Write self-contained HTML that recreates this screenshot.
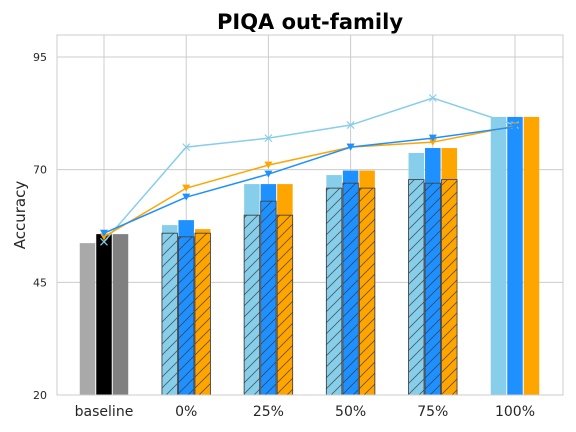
<!DOCTYPE html>
<html><head><meta charset="utf-8"><style>
body{margin:0;background:#fff;font-family:"DejaVu Sans","Liberation Sans",sans-serif}
svg{display:block}
</style></head><body>
<svg id="chart" width="576" height="432" viewBox="0 0 576 432">
<defs>
<pattern id="hatch" patternUnits="userSpaceOnUse" width="11" height="11">
<path d="M-2,13 L13,-2 M-2,2 L2,-2 M9,13 L13,9" stroke="#333" stroke-width="0.8" opacity="0.75"/>
</pattern>
</defs>
<text x="310" y="29" text-anchor="middle" font-size="21" font-weight="bold" fill="#000">PIQA out-family</text>
<text transform="translate(25,215) rotate(-90)" text-anchor="middle" font-size="15" fill="#262626">Accuracy</text>
<g id="grid"></g><g id="bars"></g><g id="lines"></g><g id="ticks"></g>
<rect x="57" y="35" width="506" height="360" fill="none" stroke="#ccc" stroke-width="1"/>
</svg>
<script>
const categories=["baseline","0%","25%","50%","75%","100%"];
const yTicks=[20,45,70,95];
const baselineVals=[53.7,55.7,55.7];
const lbSolid=[57.7,66.8,68.8,73.7,81.7];
const lbHatch=[55.9,59.9,65.9,67.8,null];
const blSolid=[58.8,66.8,69.8,74.8,81.7];
const blHatch=[55.1,63.0,67.0,67.0,null];
const orSolid=[56.8,66.8,69.8,74.8,81.7];
const orHatch=[55.9,59.9,65.9,67.8,null];
const lineLB=[54.0,75.0,77.0,79.9,85.9,79.9];
const lineOR=[55.1,65.9,71.0,75.0,76.1,79.7];
const lineBL=[55.9,63.9,69.0,75.0,77.0,79.5];
const NS="http://www.w3.org/2000/svg";
const Y=v=>395-(v-20)*338/75;
const X=i=>104+i*82.2;
function mk(tag,attrs,parent){const e=document.createElementNS(NS,tag);for(const k in attrs)e.setAttribute(k,attrs[k]);document.getElementById(parent).appendChild(e);return e;}
yTicks.forEach(t=>{
  const g=mk('line',{x1:57,x2:563,y1:Y(t),y2:Y(t),stroke:'#ccc','stroke-width':1},'grid');
  
  
  const tx=mk('text',{x:47,y:Y(t)+4,'text-anchor':'end','font-size':11,fill:'#262626'},'ticks');
  tx.textContent=t;
  
  
});
categories.forEach((c,i)=>{
  const g=mk('line',{x1:X(i),x2:X(i),y1:35,y2:395,stroke:'#ccc','stroke-width':1},'grid');
  
  
  const tx=mk('text',{x:X(i),y:416,'text-anchor':'middle','font-size':14,fill:'#262626'},'ticks');
  tx.textContent=c;
  
  
});
const bw=15.5, off=[-16.5,0,16.5];
const baseCols=['#a9a9a9','#000','#808080'];
baselineVals.forEach((v,j)=>{
  const r=mk('rect',{x:X(0)+off[j]-bw/2,y:Y(v),width:bw,height:395-Y(v),fill:baseCols[j]},'bars');
  
  
});
const series=[[lbSolid,lbHatch,'#87ceeb'],[blSolid,blHatch,'#1e90ff'],[orSolid,orHatch,'#ffa500']];
series.forEach((s,j)=>{
  s[0].forEach((v,k)=>{
    const i=k+1;
    const r=mk('rect',{x:X(i)+off[j]-bw/2,y:Y(v),width:bw,height:395-Y(v),fill:s[2]},'bars');
    
    
    const h=s[1][k];
    if(h!=null){
      const a=mk('rect',{x:X(i)+off[j]-bw/2,y:Y(h),width:bw,height:395-Y(h),fill:s[2],stroke:'#444','stroke-width':0.9},'bars');
      
      
      const b=mk('rect',{x:X(i)+off[j]-bw/2,y:Y(h),width:bw,height:395-Y(h),fill:'url(#hatch)'},'bars');
      
      
    }
  });
});
function drawLine(vals,col,marker,name){
  const pts=vals.map((v,i)=>X(i)+','+Y(v)).join(' ');
  const p=mk('polyline',{points:pts,fill:'none',stroke:col,'stroke-width':1.5},'lines');
  
  
  vals.forEach((v,i)=>{
    const x=X(i),y=Y(v);let m;
    if(marker==='x'){m=mk('path',{d:`M${x-3.5},${y-3.5}L${x+3.5},${y+3.5}M${x-3.5},${y+3.5}L${x+3.5},${y-3.5}`,stroke:col,'stroke-width':1.2},'lines');}
    else{m=mk('path',{d:`M${x-4},${y-3.5}L${x+4},${y-3.5}L${x},${y+3.5}Z`,fill:col},'lines');}
    
    
  });
}
drawLine(lineLB,'#87ceeb','x','line-lightblue');
drawLine(lineOR,'#ffa500','v','line-orange');
drawLine(lineBL,'#1e90ff','v','line-blue');
</script>
</body></html>
